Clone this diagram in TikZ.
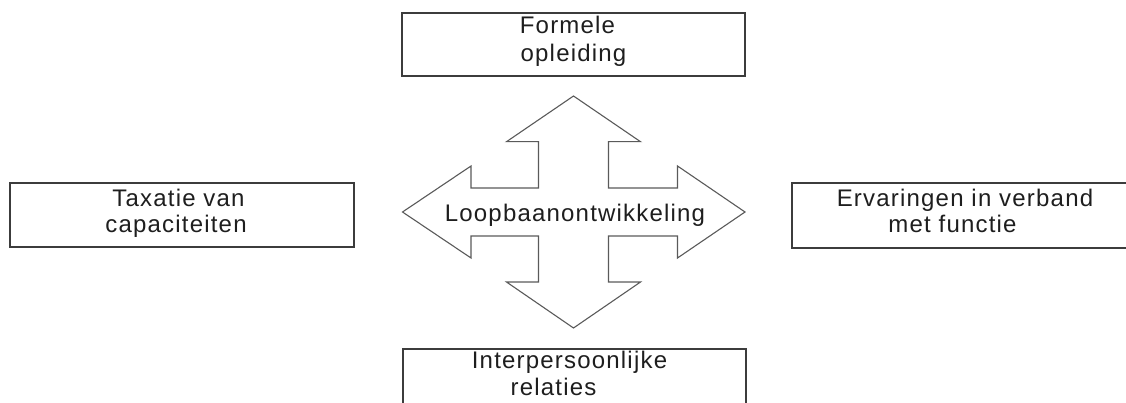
\documentclass[tikz,border=0pt]{standalone}
\usepackage{fontspec}
\setmainfont{Liberation Sans}[LetterSpace=5]
\definecolor{boxline}{HTML}{3C3C3C}
\definecolor{arrowline}{HTML}{5A5A5A}
\definecolor{ink}{HTML}{1E1E1E}
\begin{document}
\begin{tikzpicture}[x=1pt,y=-1pt,
  box/.style={draw=boxline, line width=1.8pt, rectangle, inner sep=0pt},
  lbl/.style={anchor=base, inner sep=0pt, text=ink, font=\fontsize{24}{28}\selectfont},
  crossarrow/.style={draw=arrowline, line width=1.1pt, line join=miter, fill=white}]
\useasboundingbox (0,0) rectangle (1126,403);
\begin{scope}
\clip (0,0) rectangle (1126,403);
% boxes
\node[box, minimum width=343pt, minimum height=63pt] (formele) at (573.5,44.5) {};
\node[box, minimum width=344pt, minimum height=64pt] (taxatie) at (182,215) {};
\node[box, minimum width=344pt, minimum height=65pt] (ervaring) at (964,215.5) {};
\node[box, minimum width=343pt, minimum height=64pt] (interp) at (574.5,381) {};
% labels
\node[lbl] (f1) at (567.5,34) {Formele};
\node[lbl] (f2) at (573.5,62) {opleiding};
\node[lbl] (t1) at (178.5,207) {Taxatie van};
\node[lbl] (t2) at (176,233) {capaciteiten};
\node[lbl] (e1) at (965,207) {Ervaringen in verband};
\node[lbl] (e2) at (952.5,233) {met functie};
\node[lbl] (i1) at (569.5,368) {Interpersoonlijke};
\node[lbl] (i2) at (553.5,395) {relaties};
% four-way arrow
\path[crossarrow] (573.5,96) -- (640.5,141.7) -- (608.5,141.7) -- (608.5,188)
  -- (677.5,188) -- (677.5,166) -- (745,212) -- (677.5,258) -- (677.5,236)
  -- (608.5,236) -- (608.5,282) -- (640.5,282) -- (573.5,328) -- (506.5,282)
  -- (538.5,282) -- (538.5,236) -- (471,236) -- (471,258) -- (402.5,212)
  -- (471,166) -- (471,188) -- (538.5,188) -- (538.5,141.7) -- (506.5,141.7) -- cycle;
\node[lbl] (centre) at (575,222) {Loopbaanontwikkeling};
\end{scope}
\end{tikzpicture}
\end{document}
